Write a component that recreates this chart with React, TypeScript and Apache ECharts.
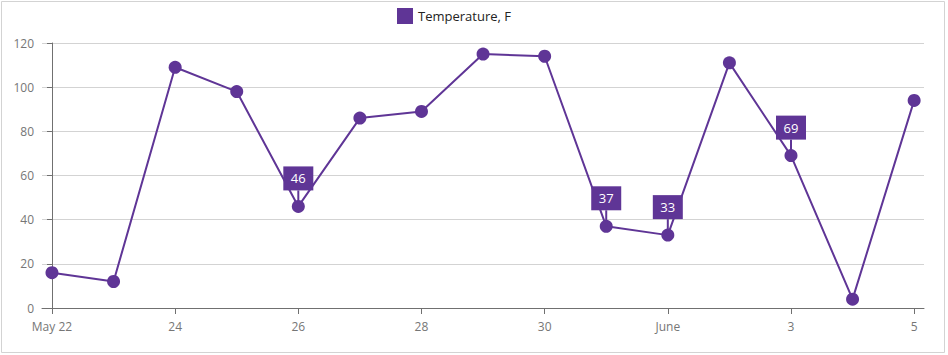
import React, { useEffect, useRef } from "react";
import * as echarts from "echarts";

const dayLabels = ["May 22", "23", "24", "25", "26", "27", "28", "29", "30", "31", "June", "2", "3", "4", "5"];
const temperatures = [16, 12, 109, 98, 46, 86, 89, 115, 114, 37, 33, 111, 69, 4, 94];
const tickIndices = [0, 2, 4, 6, 8, 10, 12, 14];
const yTicks = [0, 20, 40, 60, 80, 100, 120];
const seriesName = "Temperature, F";
const labelMin = 30;
const labelMax = 70;

const PURPLE = "#5f3596";
const FONT = "'Open Sans', 'Noto Sans', sans-serif";

export default function App() {
  const ref = useRef<HTMLDivElement>(null);
  useEffect(() => {
    if (!ref.current) return;
    const chart = echarts.init(ref.current, null, { renderer: "svg" });
    const points = temperatures.map((v, i) => [i, v]);
    const labeled = points.filter((p) => p[1] > labelMin && p[1] < labelMax);
    chart.setOption({
      animation: false,
      textStyle: { fontFamily: FONT },
      graphic: [
        {
          type: "rect",
          shape: { x: 1.5, y: 1.5, width: 943, height: 351 },
          style: { fill: "none", stroke: "#d3d3d3", lineWidth: 1 },
          silent: true,
        },
      ],
      legend: {
        top: 8,
        left: 397,
        icon: "rect",
        itemWidth: 16,
        itemHeight: 16,
        itemGap: 10,
        padding: 0,
        textStyle: { color: "#232323", fontSize: 13, fontFamily: FONT },
        data: [{ name: seriesName, itemStyle: { color: PURPLE } }],
      },
      grid: { left: 42, right: 24, top: 43, bottom: 47, containLabel: false },
      xAxis: {
        type: "value",
        min: -0.162,
        max: 14.16,
        splitLine: { show: false },
        axisLine: { show: true, lineStyle: { color: "#707070", width: 1 } },
        axisTick: { show: true, length: 6, customValues: tickIndices, lineStyle: { color: "#707070" } },
        axisLabel: {
          customValues: tickIndices,
          margin: 12,
          color: "#767676",
          fontSize: 12,
          fontFamily: FONT,
          formatter: (v: number) => dayLabels[Math.round(v)] ?? "",
        },
      },
      yAxis: {
        type: "value",
        min: yTicks[0],
        max: yTicks[yTicks.length - 1],
        interval: 20,
        axisLine: { show: true, lineStyle: { color: "#707070", width: 1 } },
        axisTick: { show: true, length: 5, lineStyle: { color: "#707070" } },
        splitLine: { show: true, lineStyle: { color: "#d3d3d3", width: 1 } },
        axisLabel: { margin: 8, color: "#767676", fontSize: 12, fontFamily: FONT },
      },
      series: [
        {
          name: seriesName,
          type: "line",
          data: points,
          symbol: "circle",
          symbolSize: 13,
          itemStyle: { color: PURPLE },
          lineStyle: { color: PURPLE, width: 2 },
          z: 2,
        },
        {
          type: "custom",
          name: "labels",
          data: labeled,
          z: 3,
          renderItem: (params: any, api: any) => {
            const x = api.value(0);
            const y = api.value(1);
            const pt = api.coord([x, y]);
            const gap = 16;
            const w = 30;
            const h = 24;
            return {
              type: "group",
              children: [
                {
                  type: "line",
                  shape: { x1: pt[0], y1: pt[1], x2: pt[0], y2: pt[1] - gap },
                  style: { stroke: PURPLE, lineWidth: 2 },
                },
                {
                  type: "rect",
                  shape: { x: pt[0] - w / 2, y: pt[1] - gap - h, width: w, height: h },
                  style: { fill: PURPLE },
                },
                {
                  type: "text",
                  x: pt[0],
                  y: pt[1] - gap - h / 2,
                  style: {
                    text: String(y),
                    fill: "#ffffff",
                    fontSize: 13,
                    fontFamily: FONT,
                    align: "center",
                    verticalAlign: "middle",
                  },
                },
              ],
            };
          },
        },
      ],
    });
    return () => chart.dispose();
  }, []);
  return (
    <div
      ref={ref}
      style={{ position: "fixed", left: 0, top: 0, width: 948, height: 355, background: "#fff" }}
    />
  );
}
